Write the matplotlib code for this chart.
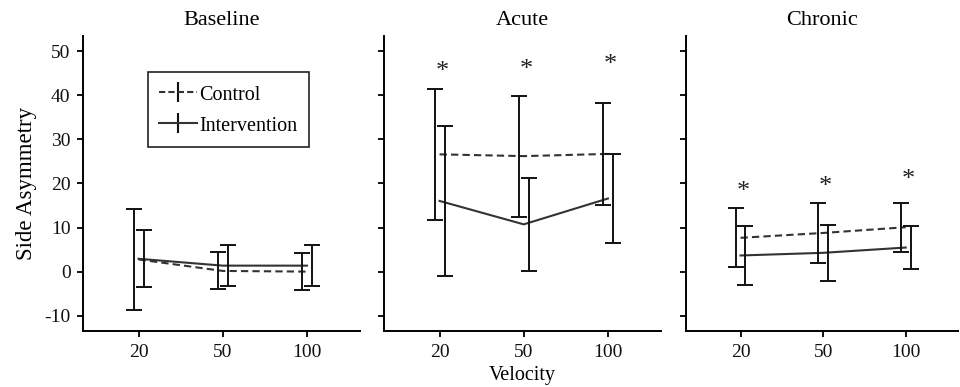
import matplotlib
matplotlib.use('Agg')
import matplotlib.pyplot as plt
import numpy as np

# data
velocities = ['20', '50', '100']
panels = ['Baseline', 'Acute', 'Chronic']

control_mean = {
    'Baseline': [2.8, 0.2, 0.05],
    'Acute': [26.6, 26.2, 26.7],
    'Chronic': [7.7, 8.8, 10.1],
}
control_err = {
    'Baseline': [11.4, 4.2, 4.25],
    'Acute': [14.85, 13.7, 11.5],
    'Chronic': [6.65, 6.7, 5.5],
}
interv_mean = {
    'Baseline': [2.95, 1.4, 1.4],
    'Acute': [16.05, 10.75, 16.6],
    'Chronic': [3.7, 4.3, 5.5],
}
interv_err = {
    'Baseline': [6.45, 4.7, 4.6],
    'Acute': [16.95, 10.55, 10.1],
    'Chronic': [6.7, 6.4, 4.8],
}
# significance markers (height of the asterisk)
star_y = {
    'Baseline': [],
    'Acute': [46.5, 46.8, 48.0],
    'Chronic': [19.2, 20.5, 22.1],
}

plt.rcParams['font.family'] = ['Liberation Serif', 'DejaVu Serif']
plt.rcParams['axes.unicode_minus'] = False

fig = plt.figure(figsize=(9.6, 3.87), dpi=100)
lefts = [0.0865, 0.400, 0.7146]
widths = [0.2885, 0.2885, 0.283]
bottom, height = 0.1447, 0.7623

x = np.arange(len(velocities))
off = 0.06
line_col = '#333333'
bar_col = '#111111'

for i, name in enumerate(panels):
    ax = fig.add_axes([lefts[i], bottom, widths[i], height])
    ax.plot(x, control_mean[name], ls='--', color=line_col, lw=1.5, dashes=(3.5, 2))
    ax.plot(x, interv_mean[name], ls='-', color=line_col, lw=1.5)
    ax.errorbar(x - off, control_mean[name], yerr=control_err[name], fmt='none',
                ecolor=bar_col, elinewidth=1.4, capsize=5.5, capthick=1.4)
    ax.errorbar(x + off, interv_mean[name], yerr=interv_err[name], fmt='none',
                ecolor=bar_col, elinewidth=1.4, capsize=5.5, capthick=1.4)
    for j, sy in enumerate(star_y[name]):
        ax.text(x[j] + 0.03, sy - 1.2, '*', ha='center', va='center', fontsize=19,
                color='#222222')

    ax.set_xlim(-0.66, 2.63)
    ax.set_ylim(-13.4, 53.4)
    ax.set_yticks([-10, 0, 10, 20, 30, 40, 50])
    ax.set_xticks(x)
    ax.set_xticklabels(velocities)
    ax.spines['top'].set_visible(False)
    ax.spines['right'].set_visible(False)
    ax.spines['left'].set_linewidth(1.4)
    ax.spines['bottom'].set_linewidth(1.4)
    ax.tick_params(direction='out', length=4, width=1.4, labelsize=14, pad=5,
                   colors='#111111')
    ax.set_title(name, fontsize=16, pad=8)
    if i > 0:
        ax.tick_params(labelleft=False)
    if i == 0:
        ax.set_ylabel('Side Asymmetry', fontsize=16.5, labelpad=5)
        # legend handles with the error-bar look
        hc = ax.errorbar([], [], yerr=[], ls='--', color=line_col, ecolor=bar_col,
                         capsize=5.5, lw=1.5, dashes=(3, 1.5))
        hi = ax.errorbar([], [], yerr=[], ls='-', color=line_col, ecolor=bar_col,
                         capsize=5.5, lw=1.5)
        leg = ax.legend([hc, hi], ['Control', 'Intervention'], loc='upper left',
                        bbox_to_anchor=(0.235, 0.878), fontsize=14.5, fancybox=False,
                        framealpha=1, edgecolor='#222222', handlelength=1.9,
                        handleheight=1.2, handletextpad=0.1, borderpad=0.55,
                        labelspacing=0.45, borderaxespad=0)
        leg.get_frame().set_linewidth(1.2)
    if i == 1:
        ax.set_xlabel('Velocity', fontsize=14.5, labelpad=4)

fig.savefig('out.png', dpi=100)
